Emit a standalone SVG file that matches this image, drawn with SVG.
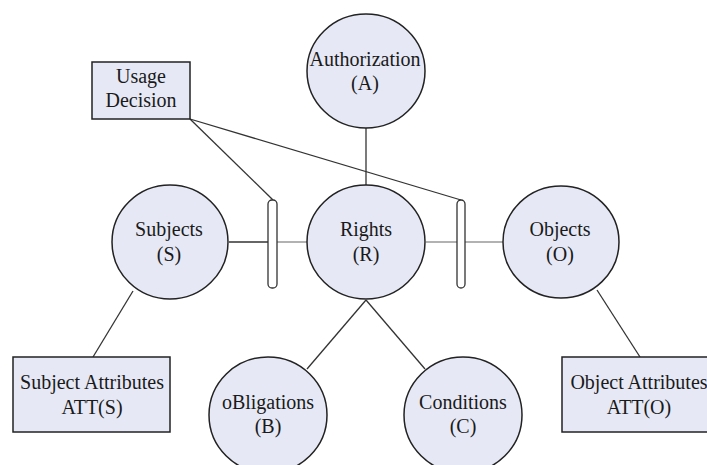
<svg xmlns="http://www.w3.org/2000/svg" width="707" height="465" viewBox="0 0 707 465">
<style>
.n{fill:#e6e9f5;stroke:#222;stroke-width:1.5}
.t{font-family:"Liberation Serif","Times New Roman",serif;font-size:20px;fill:#1a1a1a;text-anchor:middle}
.c{stroke:#333;stroke-width:1.3;fill:none}
.g{stroke:#999;stroke-width:1.5;fill:none}
.bar{fill:#fff;stroke:#333;stroke-width:1.3}
</style>
<rect width="707" height="465" fill="#fff"/>
<g id="connectors">
<line class="c" x1="366" y1="128" x2="366" y2="185"/>
<line class="c" x1="190" y1="119" x2="273" y2="200"/>
<line class="c" x1="190" y1="119" x2="461" y2="200"/>
<line class="c" x1="229" y1="242" x2="268" y2="242"/>
<line class="g" x1="277" y1="242" x2="307" y2="242"/>
<line class="g" x1="426" y1="242" x2="457" y2="242"/>
<line class="g" x1="465" y1="242" x2="503" y2="242"/>
<line class="c" x1="133" y1="291" x2="93" y2="357"/>
<line class="c" x1="597" y1="290" x2="640" y2="357"/>
<line class="c" x1="366" y1="300" x2="307" y2="369"/>
<line class="c" x1="366" y1="300" x2="425" y2="369"/>
<rect class="bar" x="268" y="200" width="9" height="88" rx="4"/>
<rect class="bar" x="457" y="200" width="8" height="88" rx="4"/>
</g>
<g id="usage">
<rect class="n" x="92" y="62" width="98" height="57"/>
<text class="t" x="141" y="83">Usage</text>
<text class="t" x="141" y="107">Decision</text>
</g>
<g id="authorization">
<ellipse class="n" cx="366" cy="71" rx="59" ry="57"/>
<text class="t" x="365" y="66">Authorization</text>
<text class="t" x="365" y="90">(A)</text>
</g>
<g id="subjects">
<ellipse class="n" cx="170" cy="242" rx="58" ry="57"/>
<text class="t" x="169" y="236">Subjects</text>
<text class="t" x="169" y="261">(S)</text>
</g>
<g id="rights">
<ellipse class="n" cx="366" cy="242" rx="59" ry="57"/>
<text class="t" x="366" y="236">Rights</text>
<text class="t" x="366" y="261">(R)</text>
</g>
<g id="objects">
<ellipse class="n" cx="561" cy="242" rx="58" ry="56"/>
<text class="t" x="560" y="236">Objects</text>
<text class="t" x="560" y="261">(O)</text>
</g>
<g id="subject-attributes">
<rect class="n" x="13" y="357" width="157" height="75"/>
<text class="t" x="92" y="389">Subject Attributes</text>
<text class="t" x="92" y="414">ATT(S)</text>
</g>
<g id="object-attributes">
<rect class="n" x="562" y="357" width="150" height="75"/>
<text class="t" x="639" y="389">Object Attributes</text>
<text class="t" x="639" y="414">ATT(O)</text>
</g>
<g id="obligations">
<ellipse class="n" cx="268" cy="415" rx="59" ry="58"/>
<text class="t" x="268" y="409">oBligations</text>
<text class="t" x="268" y="433">(B)</text>
</g>
<g id="conditions">
<ellipse class="n" cx="463" cy="415" rx="59" ry="58"/>
<text class="t" x="463" y="409">Conditions</text>
<text class="t" x="463" y="433">(C)</text>
</g>
</svg>
